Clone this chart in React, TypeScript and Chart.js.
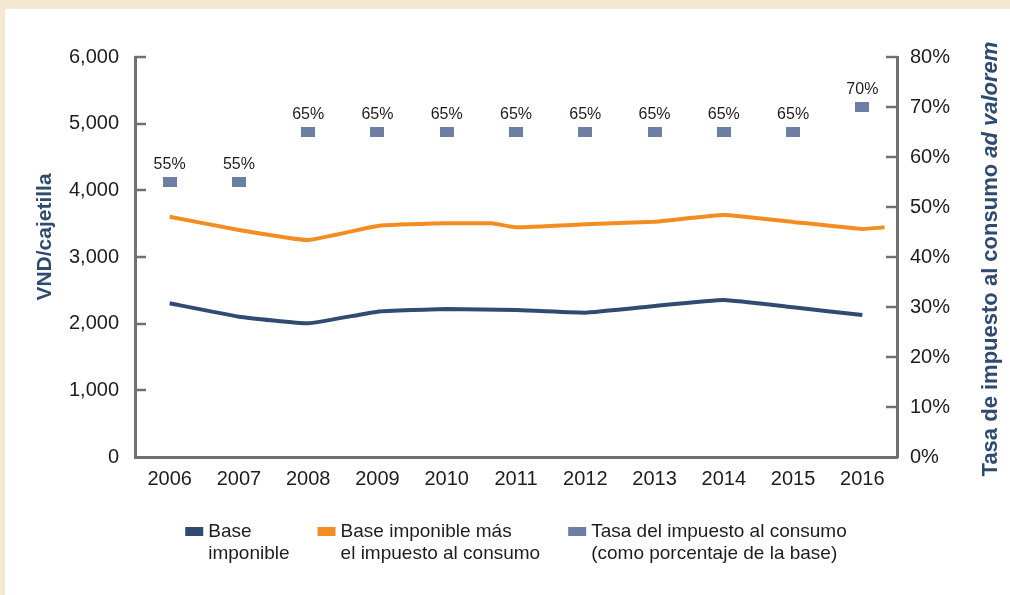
import React, { useEffect, useRef } from 'react';
import { Chart, registerables } from 'chart.js';

Chart.register(...registerables);

// ---------- data ----------
const years = [2006, 2007, 2008, 2009, 2010, 2011, 2012, 2013, 2014, 2015, 2016];
const baseImponible = [2305, 2105, 2005, 2180, 2220, 2205, 2165, 2265, 2355, 2245, 2130];
const baseMasImpuestoYears = [2006, 2007, 2008, 2009, 2010, 2010.65, 2011, 2012, 2013, 2014, 2015, 2016, 2016.32];
const baseMasImpuesto = [3605, 3405, 3255, 3465, 3505, 3505, 3445, 3490, 3530, 3630, 3525, 3420, 3445];
const tasaImpuesto = [55, 55, 65, 65, 65, 65, 65, 65, 65, 65, 70];

const leftMax = 6000;
const leftStep = 1000;
const rightMax = 80;
const rightStep = 10;

const legendLabels = [
  ['Base', 'imponible'],
  ['Base imponible más', 'el impuesto al consumo'],
  ['Tasa del impuesto al consumo', '(como porcentaje de la base)'],
];
const leftTitle = 'VND/cajetilla';
const rightTitleMain = 'Tasa de impuesto al consumo ';
const rightTitleItalic = 'ad valorem';

// ---------- styles ----------
const FONT = "'Liberation Sans', Arial, Helvetica, sans-serif";
const TEXT = '#1f1c1d';
const AXIS = '#707070';
const TITLE = '#2e4a70';
const BLUE = '#304b72';
const ORANGE = '#f48d21';
const SQUARE = '#6a7fa3';
const seriesColors = [BLUE, ORANGE, SQUARE];

const decorPlugin = {
  id: 'decor',
  afterDraw(chart: any) {
    const ctx = chart.ctx as CanvasRenderingContext2D;
    const y = chart.scales.y;
    const y2 = chart.scales.y2;
    const area = chart.chartArea;
    ctx.save();
    // inward tick marks
    ctx.strokeStyle = AXIS;
    ctx.lineWidth = 2.5;
    y.ticks.forEach((t: any) => {
      if (t.value === 0) return;
      const py = Math.round(y.getPixelForValue(t.value));
      ctx.beginPath();
      ctx.moveTo(y.right, py);
      ctx.lineTo(y.right + 11, py);
      ctx.stroke();
    });
    y2.ticks.forEach((t: any) => {
      if (t.value === 0) return;
      const py = Math.round(y2.getPixelForValue(t.value));
      ctx.beginPath();
      ctx.moveTo(y2.left - 11, py);
      ctx.lineTo(y2.left, py);
      ctx.stroke();
    });
    // data labels for the rate
    const meta = chart.getDatasetMeta(2);
    ctx.font = `16px ${FONT}`;
    ctx.fillStyle = TEXT;
    ctx.textAlign = 'center';
    ctx.textBaseline = 'middle';
    meta.data.forEach((pt: any, i: number) => {
      ctx.fillText(`${tasaImpuesto[i]}%`, pt.x, pt.y - 17);
    });
    // legend
    ctx.font = `19px ${FONT}`;
    ctx.textAlign = 'left';
    ctx.textBaseline = 'middle';
    const boxW = 18, boxH = 9, boxGap = 5, itemGap = 28, lineH = 22.5;
    const widths = legendLabels.map(
      (lines) => boxW + boxGap + Math.max(...lines.map((l) => ctx.measureText(l).width))
    );
    const total = widths.reduce((a, b) => a + b, 0) + itemGap * (widths.length - 1);
    let lx = (area.left + area.right) / 2 - total / 2;
    const boxTop = area.bottom + 70;
    legendLabels.forEach((lines, i) => {
      ctx.fillStyle = seriesColors[i];
      ctx.fillRect(lx, boxTop, boxW, boxH);
      ctx.fillStyle = TEXT;
      lines.forEach((l, j) => {
        ctx.fillText(l, lx + boxW + boxGap, boxTop + boxH / 2 + j * lineH);
      });
      lx += widths[i] + itemGap;
    });
    // left axis title
    ctx.fillStyle = TITLE;
    ctx.save();
    ctx.translate(45, 237);
    ctx.rotate(-Math.PI / 2);
    ctx.font = `bold 21px ${FONT}`;
    ctx.textAlign = 'center';
    ctx.fillText(leftTitle, 0, 0);
    ctx.restore();
    // right axis title (mixed style)
    ctx.save();
    ctx.translate(991, 259);
    ctx.rotate(-Math.PI / 2);
    ctx.textAlign = 'left';
    const f1 = `bold 22px ${FONT}`;
    const f2 = `italic bold 22px ${FONT}`;
    ctx.font = f1;
    const w1 = ctx.measureText(rightTitleMain).width;
    ctx.font = f2;
    const w2 = ctx.measureText(rightTitleItalic).width;
    const start = -(w1 + w2) / 2;
    ctx.font = f1;
    ctx.fillText(rightTitleMain, start, 0);
    ctx.font = f2;
    ctx.fillText(rightTitleItalic, start + w1, 0);
    ctx.restore();
    ctx.restore();
  },
};

export default function App() {
  const ref = useRef<HTMLCanvasElement | null>(null);

  useEffect(() => {
    if (!ref.current) return;
    Chart.defaults.font.family = FONT;
    Chart.defaults.color = TEXT;

    const sq = document.createElement('canvas');
    sq.width = 14;
    sq.height = 10;
    const sctx = sq.getContext('2d')!;
    sctx.fillStyle = SQUARE;
    sctx.fillRect(0, 0, 14, 10);

    const chart = new Chart(ref.current, {
      type: 'line',
      data: {
        datasets: [
          {
            label: 'Base imponible',
            data: years.map((yr, i) => ({ x: yr, y: baseImponible[i] })),
            borderColor: BLUE,
            backgroundColor: BLUE,
            borderWidth: 4,
            pointRadius: 0,
            tension: 0.1,
            yAxisID: 'y',
          },
          {
            label: 'Base imponible más el impuesto al consumo',
            data: baseMasImpuestoYears.map((yr, i) => ({ x: yr, y: baseMasImpuesto[i] })),
            borderColor: ORANGE,
            backgroundColor: ORANGE,
            borderWidth: 4,
            pointRadius: 0,
            tension: 0.1,
            yAxisID: 'y',
          },
          {
            label: 'Tasa del impuesto al consumo',
            data: years.map((yr, i) => ({ x: yr, y: tasaImpuesto[i] })),
            showLine: false,
            pointStyle: sq as any,
            pointRadius: 6,
            backgroundColor: SQUARE,
            borderColor: SQUARE,
            yAxisID: 'y2',
          },
        ],
      },
      options: {
        responsive: false,
        animation: false,
        devicePixelRatio: 1,
        layout: { padding: { left: 23, right: 0, top: 57, bottom: 102 } },
        plugins: {
          tooltip: { enabled: false },
          legend: { display: false },
        },
        scales: {
          x: {
            type: 'linear',
            min: years[0] - 0.5,
            max: years[years.length - 1] + 0.5,
            afterBuildTicks: (s: any) => {
              s.ticks = years.map((v) => ({ value: v }));
            },
            afterFit: (s: any) => {
              s.height = 36;
            },
            grid: { display: false, drawTicks: false },
            border: { display: true, color: AXIS, width: 3 },
            ticks: {
              padding: 10,
              font: { size: 20 },
              color: TEXT,
              autoSkip: false,
              maxRotation: 0,
              callback: (v: any) => String(v),
            },
          },
          y: {
            type: 'linear',
            position: 'left',
            min: 0,
            max: leftMax,
            afterFit: (s: any) => {
              s.width = 112;
            },
            grid: { display: false, drawTicks: false },
            border: { display: true, color: AXIS, width: 3 },
            ticks: {
              stepSize: leftStep,
              padding: 16,
              font: { size: 20 },
              color: TEXT,
              callback: (v: any) => Number(v).toLocaleString('en-US'),
            },
          },
          y2: {
            type: 'linear',
            position: 'right',
            min: 0,
            max: rightMax,
            afterFit: (s: any) => {
              s.width = 113;
            },
            grid: { display: false, drawTicks: false },
            border: { display: true, color: AXIS, width: 3 },
            ticks: {
              stepSize: rightStep,
              padding: 13,
              font: { size: 20 },
              color: TEXT,
              callback: (v: any) => `${v}%`,
            },
          },
        },
      },
      plugins: [decorPlugin],
    } as any);
    return () => chart.destroy();
  }, []);

  return (
    <div style={{ position: 'fixed', left: 0, top: 0, width: 1010, height: 595, background: '#f4e8d2', overflow: 'hidden' }}>
      <div style={{ position: 'absolute', left: 5, top: 9, right: 0, bottom: 0, background: '#ffffff' }} />
      <canvas ref={ref} width={1010} height={595} style={{ position: 'absolute', left: 0, top: 0, width: 1010, height: 595 }} />
    </div>
  );
}
